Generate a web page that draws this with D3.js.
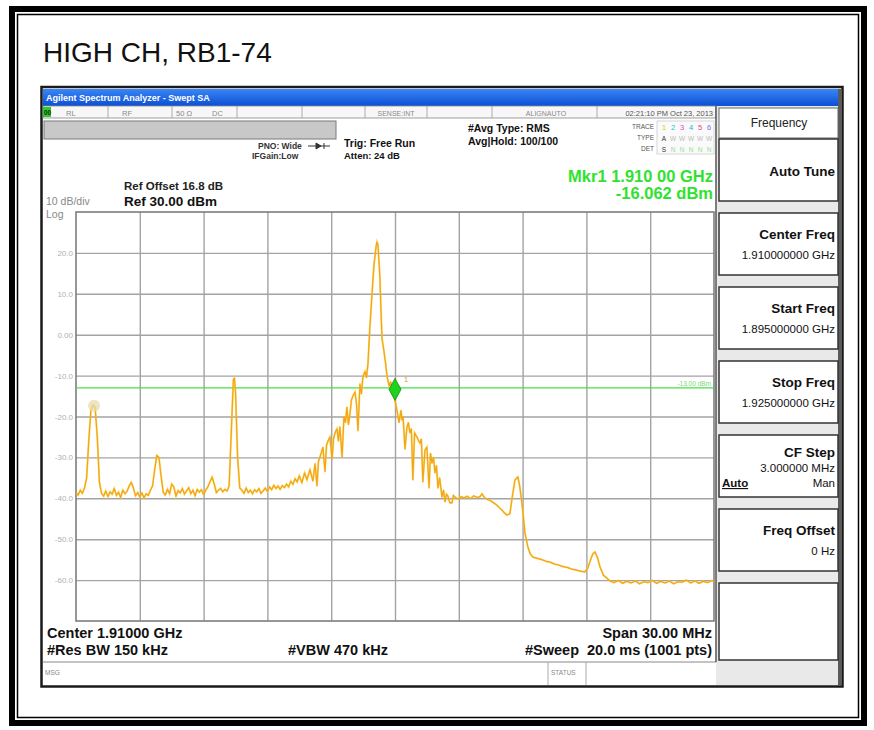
<!DOCTYPE html>
<html>
<head>
<meta charset="utf-8">
<script src="https://cdn.jsdelivr.net/npm/d3@7/dist/d3.min.js"></script>
<style>
  body { margin: 0; background: #fff; }
  svg text { font-family: "Liberation Sans", Arial, sans-serif; }
</style>
</head>
<body>
<svg id="chart" width="874" height="730"></svg>
<script>
// sweep settings
const startFreq = 1895;   // MHz
const stopFreq = 1925;    // MHz
const refLevel = 30;      // dBm
const bottomLevel = -70;  // dBm (10 dB/div)
const displayLine = -13;
const markerFreq = 1910;
const markerLevel = -16.062;

const yTickValues = [20, 10, 0, -10, -20, -30, -40, -50, -60];
const yTickLabels = ["20.0", "10.0", "0.00", "-10.0", "-20.0", "-30.0", "-40.0", "-50.0", "-60.0"];
const xGridFreqs = [1898, 1901, 1904, 1907, 1910, 1913, 1916, 1919, 1922];

// trace: [MHz, dBm]
const tracePoints = [
  [1895.00,-38.5],[1895.10,-39.2],[1895.20,-38.0],[1895.30,-38.8],[1895.40,-37.5],[1895.50,-35.0],[1895.60,-26.0],
  [1895.70,-18.5],[1895.80,-17.2],[1895.90,-17.8],[1896.00,-25.0],[1896.10,-36.0],[1896.20,-38.8],[1896.30,-39.5],
  [1896.40,-38.2],[1896.50,-39.6],[1896.60,-38.4],[1896.70,-39.0],[1896.80,-37.6],[1896.90,-39.3],[1897.00,-38.5],
  [1897.10,-39.8],[1897.20,-38.0],[1897.30,-38.9],[1897.40,-38.3],[1897.50,-37.0],[1897.60,-36.1],[1897.70,-37.5],
  [1897.80,-39.4],[1897.90,-38.6],[1898.00,-39.7],[1898.10,-38.7],[1898.20,-39.9],[1898.30,-38.9],[1898.40,-39.3],
  [1898.50,-38.0],[1898.60,-37.0],[1898.70,-33.0],[1898.80,-29.5],[1898.90,-30.0],[1899.00,-34.5],[1899.10,-38.5],
  [1899.20,-39.2],[1899.30,-37.8],[1899.40,-38.9],[1899.50,-36.5],[1899.60,-37.2],[1899.70,-39.5],[1899.80,-38.1],
  [1899.90,-38.7],[1900.00,-37.6],[1900.10,-39.0],[1900.20,-38.2],[1900.30,-37.4],[1900.40,-38.9],[1900.50,-38.0],
  [1900.60,-39.4],[1900.70,-37.8],[1900.80,-38.5],[1900.90,-37.9],[1901.00,-39.1],[1901.10,-38.0],[1901.20,-37.2],
  [1901.30,-36.0],[1901.40,-34.8],[1901.50,-36.5],[1901.60,-38.6],[1901.70,-38.0],[1901.80,-37.6],[1901.90,-38.4],
  [1902.00,-37.8],[1902.10,-38.2],[1902.20,-37.0],[1902.30,-24.0],[1902.40,-11.0],[1902.45,-10.6],[1902.50,-14.0],
  [1902.60,-30.0],[1902.70,-37.5],[1902.80,-38.0],[1902.90,-38.8],[1903.00,-37.5],[1903.10,-38.6],[1903.20,-38.0],
  [1903.30,-38.9],[1903.40,-37.9],[1903.50,-38.4],[1903.60,-37.6],[1903.70,-38.8],[1903.80,-38.2],[1903.90,-37.5],
  [1904.00,-38.3],[1904.10,-37.2],[1904.20,-37.9],[1904.30,-36.8],[1904.40,-37.6],[1904.50,-37.0],[1904.60,-37.8],
  [1904.70,-36.9],[1904.80,-37.4],[1904.90,-36.5],[1905.00,-37.2],[1905.10,-35.8],[1905.20,-36.6],[1905.30,-35.2],
  [1905.40,-36.0],[1905.50,-34.5],[1905.62,-36.2],[1905.75,-33.8],[1905.86,-35.5],[1906.00,-33.0],[1906.14,-35.8],
  [1906.24,-31.5],[1906.33,-37.0],[1906.40,-31.0],[1906.47,-30.0],[1906.61,-27.5],[1906.71,-33.5],[1906.78,-27.0],
  [1906.85,-26.0],[1906.94,-25.0],[1907.04,-30.5],[1907.11,-25.5],[1907.18,-24.0],[1907.27,-23.0],[1907.34,-26.0],
  [1907.41,-22.5],[1907.51,-30.0],[1907.60,-20.0],[1907.67,-21.5],[1907.74,-17.7],[1907.81,-22.0],[1907.88,-19.5],
  [1907.95,-16.0],[1908.02,-15.0],[1908.12,-14.0],[1908.19,-17.0],[1908.26,-23.5],[1908.35,-12.0],[1908.42,-14.5],
  [1908.49,-10.3],[1908.59,-9.0],[1908.66,-10.5],[1908.73,-7.0],[1908.82,2.0],[1908.92,10.0],[1909.01,17.0],
  [1909.11,21.5],[1909.15,22.7],[1909.20,22.0],[1909.29,14.0],[1909.34,6.0],[1909.39,-1.0],[1909.48,-4.0],
  [1909.57,-7.5],[1909.62,-10.0],[1909.72,-12.5],[1909.80,-11.5],[1909.86,-14.5],[1909.93,-13.5],[1910.00,-16.06],
  [1910.09,-18.4],[1910.19,-21.5],[1910.28,-18.5],[1910.33,-20.9],[1910.38,-20.0],[1910.47,-28.0],[1910.56,-22.6],
  [1910.63,-21.5],[1910.70,-24.0],[1910.77,-23.0],[1910.84,-35.5],[1910.92,-24.0],[1911.03,-25.0],[1911.10,-25.8],
  [1911.17,-26.5],[1911.24,-25.5],[1911.31,-36.0],[1911.41,-28.2],[1911.50,-27.5],[1911.60,-37.5],[1911.67,-29.0],
  [1911.74,-31.4],[1911.81,-30.0],[1911.88,-33.8],[1911.95,-32.0],[1912.02,-37.5],[1912.10,-35.0],[1912.21,-39.7],
  [1912.28,-38.0],[1912.35,-40.9],[1912.42,-39.0],[1912.49,-39.5],[1912.58,-41.1],[1912.68,-41.1],[1912.75,-39.3],
  [1912.82,-39.7],[1912.95,-40.2],[1913.10,-39.6],[1913.25,-39.9],[1913.40,-39.5],[1913.55,-40.1],[1913.70,-39.4],
  [1913.85,-39.8],[1914.00,-39.6],[1914.09,-38.9],[1914.20,-39.8],[1914.35,-40.3],[1914.50,-40.6],[1914.61,-41.0],
  [1914.75,-41.5],[1914.93,-42.4],[1915.05,-43.0],[1915.15,-43.6],[1915.26,-44.1],[1915.40,-43.8],[1915.52,-39.5],
  [1915.64,-35.5],[1915.78,-34.8],[1915.87,-37.2],[1915.95,-40.5],[1916.02,-43.6],[1916.11,-48.5],[1916.25,-51.9],
  [1916.35,-53.5],[1916.49,-54.4],[1916.70,-54.7],[1916.90,-55.0],[1917.10,-55.4],[1917.30,-55.6],[1917.50,-56.1],
  [1917.70,-56.3],[1917.90,-56.7],[1918.10,-56.9],[1918.30,-57.3],[1918.50,-57.5],[1918.70,-57.8],[1918.93,-58.0],
  [1919.07,-57.0],[1919.20,-55.0],[1919.30,-53.6],[1919.40,-53.1],[1919.52,-54.5],[1919.64,-56.8],[1919.80,-58.8],
  [1919.96,-59.5],[1920.10,-60.2],[1920.30,-60.6],[1920.50,-60.1],[1920.70,-60.8],[1920.90,-60.3],[1921.10,-60.7],
  [1921.30,-60.2],[1921.50,-60.9],[1921.70,-60.4],[1921.90,-60.6],[1922.10,-60.1],[1922.30,-60.8],[1922.50,-60.3],
  [1922.70,-60.7],[1922.90,-60.2],[1923.10,-60.9],[1923.30,-60.4],[1923.50,-60.5],[1923.70,-60.0],[1923.90,-60.7],
  [1924.10,-60.2],[1924.30,-60.8],[1924.50,-60.3],[1924.70,-60.6],[1924.90,-60.1],[1925.00,-60.4]
];

// right-hand softkey menu
const softkeyTitles = ["Auto Tune", "Center Freq", "Start Freq", "Stop Freq", "CF Step", "Freq Offset", ""];
const softkeyValues = ["", "1.910000000 GHz", "1.895000000 GHz", "1.925000000 GHz", "3.000000 MHz", "0 Hz", ""];
const traceNumColors = ["#d8d000", "#22c8c8", "#e040d0", "#20b0e0", "#e04a80", "#7a70ff"];

const svg = d3.select("#chart");

function addText(x, y, str, size, opts = {}) {
  return svg.append("text")
    .attr("x", x)
    .attr("y", y)
    .attr("font-size", size)
    .attr("font-weight", opts.bold ? "bold" : "normal")
    .attr("text-anchor", opts.anchor || "start")
    .attr("fill", opts.fill || "#111")
    .text(str);
}

// page frame (thick + thin)
svg.append("rect").attr("x", 12).attr("y", 9).attr("width", 852).attr("height", 714)
  .attr("fill", "none").attr("stroke", "#000").attr("stroke-width", 6);
svg.append("rect").attr("x", 17.5).attr("y", 14.5).attr("width", 841).attr("height", 703)
  .attr("fill", "none").attr("stroke", "#000").attr("stroke-width", 1.5);

addText(43, 62, "HIGH CH, RB1-74", 28);

// analyzer screen
svg.append("rect").attr("x", 41.5).attr("y", 87).attr("width", 801).attr("height", 599.5)
  .attr("fill", "#fff").attr("stroke", "#1a1a1a").attr("stroke-width", 2.5);

const defs = svg.append("defs");
const grad = defs.append("linearGradient").attr("id", "titlebar").attr("x1", 0).attr("x2", 0).attr("y1", 0).attr("y2", 1);
grad.append("stop").attr("offset", "0%").attr("stop-color", "#3a86f4");
grad.append("stop").attr("offset", "100%").attr("stop-color", "#0b4fd6");
svg.append("rect").attr("x", 43).attr("y", 89).attr("width", 798).attr("height", 17).attr("fill", "url(#titlebar)");
addText(46, 101, "Agilent Spectrum Analyzer - Swept SA", 9, { bold: true, fill: "#fff" });

// status row
svg.append("rect").attr("x", 43).attr("y", 106).attr("width", 673).attr("height", 12)
  .attr("fill", "#f7f7f7").attr("stroke", "#888").attr("stroke-width", 0.8);
[108, 172, 237, 302, 365, 427, 492, 597].forEach(sx => {
  svg.append("line").attr("x1", sx).attr("x2", sx).attr("y1", 106).attr("y2", 118)
    .attr("stroke", "#999").attr("stroke-width", 0.8);
});
svg.append("rect").attr("x", 43).attr("y", 107).attr("width", 8).attr("height", 10).attr("fill", "#26d126");
addText(44, 115, "00", 6.5, { bold: true, fill: "#222" });
const statusGray = "#8a8a8a";
addText(66, 115.5, "RL", 7.5, { fill: statusGray });
addText(122, 115.5, "RF", 7.5, { fill: statusGray });
addText(176, 115.5, "50 \u03A9", 7.5, { fill: statusGray });
addText(212, 115.5, "DC", 7.5, { fill: statusGray });
addText(396, 115.5, "SENSE:INT", 7, { fill: statusGray, anchor: "middle" });
addText(546, 115.5, "ALIGNAUTO", 7, { fill: statusGray, anchor: "middle" });
addText(713, 115.5, "02:21:10 PM Oct 23, 2013", 7.5, { fill: "#555", anchor: "end" });

svg.append("rect").attr("x", 44).attr("y", 121).attr("width", 292).attr("height", 18)
  .attr("fill", "#c8c8c8").attr("stroke", "#7a7a7a").attr("stroke-width", 1);

// settings text
addText(258, 149, "PNO: Wide", 8.5, { bold: true, fill: "#333" });
svg.append("line").attr("x1", 308).attr("x2", 330).attr("y1", 146).attr("y2", 146).attr("stroke", "#333");
svg.append("path").attr("d", "M316,143 L321,146 L316,149 Z M324,143 L324,149").attr("fill", "#333").attr("stroke", "#333");
addText(252, 159, "IFGain:Low", 8.5, { bold: true, fill: "#333" });
addText(344, 147, "Trig: Free Run", 10.5, { bold: true });
addText(344, 159, "Atten: 24 dB", 9.5, { bold: true });
addText(468, 132, "#Avg Type: RMS", 10.5, { bold: true });
addText(468, 145, "Avg|Hold: 100/100", 10.5, { bold: true });

// trace legend
addText(654, 129, "TRACE", 6.5, { fill: "#555", anchor: "end" });
addText(654, 140, "TYPE", 6.5, { fill: "#555", anchor: "end" });
addText(654, 151, "DET", 6.5, { fill: "#555", anchor: "end" });
svg.append("rect").attr("x", 657).attr("y", 121).attr("width", 57).attr("height", 33)
  .attr("fill", "#fafafa").attr("stroke", "#ccc").attr("stroke-width", 0.8);
traceNumColors.forEach((c, i) => {
  addText(664 + i * 9, 130, String(i + 1), 7.5, { fill: c, anchor: "middle" });
  addText(664 + i * 9, 141, i === 0 ? "A" : "W", 6.5, { fill: i === 0 ? "#333" : "#bbb", anchor: "middle" });
  addText(664 + i * 9, 152, i === 0 ? "S" : "N", 6.5, { fill: i === 0 ? "#333" : "#9d9", anchor: "middle" });
});

// marker readout
addText(713, 182, "Mkr1 1.910 00 GHz", 16.5, { bold: true, fill: "#2fe22f", anchor: "end" });
addText(713, 199, "-16.062 dBm", 16.5, { bold: true, fill: "#2fe22f", anchor: "end" });

addText(124, 190, "Ref Offset 16.8 dB", 11.5, { bold: true, fill: "#222" });
addText(124, 206, "Ref 30.00 dBm", 13.5, { bold: true });
addText(46, 205, "10 dB/div", 10.5, { fill: "#888" });
addText(46, 218, "Log", 10.5, { fill: "#888" });

// plot area
const plotLeft = 76, plotRight = 714, plotTop = 212, plotBottom = 621;
const x = d3.scaleLinear().domain([startFreq, stopFreq]).range([plotLeft, plotRight]);
const y = d3.scaleLinear().domain([bottomLevel, refLevel]).range([plotBottom, plotTop]);

const gridColor = "#a3a3a3";

// horizontal grid + level labels
const yAxis = d3.axisLeft(y)
  .tickValues(yTickValues)
  .tickSize(-(plotRight - plotLeft))
  .tickPadding(3)
  .tickFormat((d, i) => yTickLabels[i]);
const gy = svg.append("g").attr("transform", `translate(${plotLeft},0)`).call(yAxis);
gy.select(".domain").remove();
gy.selectAll("line").attr("stroke", gridColor).attr("stroke-width", 1.4);
gy.selectAll("text").attr("fill", "#b0b0b0").attr("font-size", 8)
  .attr("font-family", "\"Liberation Sans\", Arial, sans-serif");

// vertical grid
const xAxis = d3.axisBottom(x)
  .tickValues(xGridFreqs)
  .tickSize(-(plotBottom - plotTop))
  .tickFormat("");
const gx = svg.append("g").attr("transform", `translate(0,${plotBottom})`).call(xAxis);
gx.select(".domain").remove();
gx.selectAll("line").attr("stroke", gridColor).attr("stroke-width", 1.4);

svg.append("rect")
  .attr("x", plotLeft).attr("y", plotTop)
  .attr("width", plotRight - plotLeft).attr("height", plotBottom - plotTop)
  .attr("fill", "none").attr("stroke", "#7d7d7d").attr("stroke-width", 1.6);

defs.append("clipPath").attr("id", "plotclip")
  .append("rect").attr("x", plotLeft).attr("y", plotTop)
  .attr("width", plotRight - plotLeft).attr("height", plotBottom - plotTop);

// display line
svg.append("line")
  .attr("x1", plotLeft).attr("x2", plotRight)
  .attr("y1", y(displayLine)).attr("y2", y(displayLine))
  .attr("stroke", "#46e046").attr("stroke-width", 1.2);
addText(plotRight - 3, y(displayLine) - 1.5, "-13.00 dBm", 6.5, { fill: "#7ad87a", anchor: "end" });

// trace
const line = d3.line().x(d => x(d[0])).y(d => y(d[1]));
const traceG = svg.append("g").attr("clip-path", "url(#plotclip)");
traceG.append("path").datum(tracePoints)
  .attr("d", line).attr("fill", "none")
  .attr("stroke", "#f2d22a").attr("stroke-width", 2).attr("stroke-opacity", 0.7);
traceG.append("path").datum(tracePoints)
  .attr("d", line).attr("fill", "none")
  .attr("stroke", "#f6a31c").attr("stroke-width", 1.2).attr("stroke-linejoin", "round");

// faint peak highlight on the left spur
traceG.append("circle")
  .attr("cx", x(1895.85)).attr("cy", y(-17.4)).attr("r", 6)
  .attr("fill", "#e6dcae").attr("opacity", 0.75);

// marker 1 diamond, tip on the trace
const mx = x(markerFreq), my = y(markerLevel);
svg.append("path")
  .attr("d", `M${mx},${my} L${mx + 6},${my - 11} L${mx},${my - 22} L${mx - 6},${my - 11} Z`)
  .attr("fill", "#1fd21f").attr("stroke", "#138a13").attr("stroke-width", 0.8);
addText(mx + 9, my - 18, "1", 7.5, { fill: "#e0a020" });

// bottom annotations
addText(47, 638, "Center 1.91000 GHz", 14.5, { bold: true });
addText(47, 655, "#Res BW 150 kHz", 14.5, { bold: true });
addText(288, 655, "#VBW 470 kHz", 14.5, { bold: true });
addText(712, 638, "Span 30.00 MHz", 14.5, { bold: true, anchor: "end" });
addText(712, 655, "#Sweep  20.0 ms (1001 pts)", 14.5, { bold: true, anchor: "end" }).attr("xml:space", "preserve");

// message/status bar
svg.append("line").attr("x1", 43).attr("x2", 716).attr("y1", 662).attr("y2", 662).attr("stroke", "#888").attr("stroke-width", 1);
svg.append("line").attr("x1", 548).attr("x2", 548).attr("y1", 662).attr("y2", 685).attr("stroke", "#aaa");
svg.append("line").attr("x1", 586).attr("x2", 586).attr("y1", 662).attr("y2", 685).attr("stroke", "#aaa");
addText(45, 675, "MSG", 6.5, { fill: "#888" });
addText(551, 675, "STATUS", 6.5, { fill: "#888" });

// right softkey panel
svg.append("rect").attr("x", 716).attr("y", 106).attr("width", 125).attr("height", 579).attr("fill", "#e9e9e9");
svg.append("line").attr("x1", 716).attr("x2", 716).attr("y1", 106).attr("y2", 662).attr("stroke", "#555").attr("stroke-width", 1.5);
svg.append("rect").attr("x", 838).attr("y", 89).attr("width", 4).attr("height", 596).attr("fill", "#5b5b5b");

svg.append("rect").attr("x", 719).attr("y", 108).attr("width", 119).attr("height", 30)
  .attr("fill", "#fff").attr("stroke", "#666").attr("stroke-width", 1);
addText(779, 127, "Frequency", 12, { anchor: "middle", fill: "#222" });

const keyTops = [139, 213, 287, 361, 435, 509, 583];
keyTops.forEach((top, i) => {
  const h = i === keyTops.length - 1 ? 77 : 62;
  svg.append("rect").attr("x", 719).attr("y", top).attr("width", 119).attr("height", h)
    .attr("fill", "#fff").attr("stroke", "#333").attr("stroke-width", 1.5);
  if (!softkeyTitles[i]) return;
  if (i === 0) {
    addText(835, top + 37, softkeyTitles[i], 13.5, { bold: true, anchor: "end" });
  } else if (softkeyTitles[i] === "CF Step") {
    addText(835, top + 22, softkeyTitles[i], 13.5, { bold: true, anchor: "end" });
    addText(835, top + 37, softkeyValues[i], 11.5, { anchor: "end" });
    addText(722, top + 52, "Auto", 11.5, { bold: true }).attr("text-decoration", "underline");
    addText(835, top + 52, "Man", 11.5, { anchor: "end" });
  } else {
    addText(835, top + 26, softkeyTitles[i], 13.5, { bold: true, anchor: "end" });
    addText(835, top + 46, softkeyValues[i], 11.5, { anchor: "end" });
  }
});
</script>
</body>
</html>
